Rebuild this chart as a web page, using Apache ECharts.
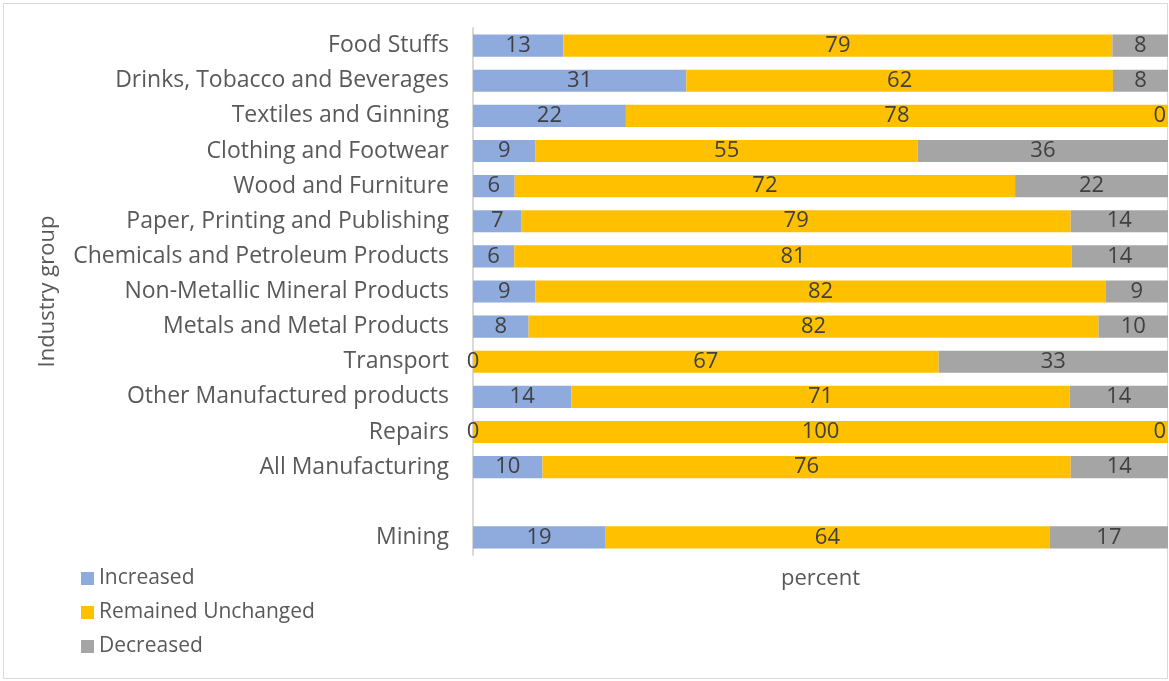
<!DOCTYPE html>
<html>
<head>
<meta charset="utf-8">
<script src="https://cdn.jsdelivr.net/npm/echarts@6/dist/echarts.min.js"></script>
<style>
  html, body { margin: 0; padding: 0; background: #ffffff; }
  #chart { width: 1169px; height: 681px; }
</style>
</head>
<body>
<div id="chart"></div>
<script>
// Industry groups, top to bottom; the empty entry leaves a gap before Mining
const categories = [
  'Food Stuffs',
  'Drinks, Tobacco and Beverages',
  'Textiles and Ginning',
  'Clothing and Footwear',
  'Wood and Furniture',
  'Paper, Printing and Publishing',
  'Chemicals and Petroleum Products',
  'Non-Metallic Mineral Products',
  'Metals and Metal Products',
  'Transport',
  'Other Manufactured products',
  'Repairs',
  'All Manufacturing',
  '',
  'Mining'
];

// Responses in percent per group
const increased = [13, 31, 22, 9, 6, 7, 6, 9, 8, 0, 14, 0, 10, null, 19];
const unchanged = [79, 62, 78, 55, 72, 79, 81, 82, 82, 67, 71, 100, 76, null, 64];
const decreased = [8, 8, 0, 36, 22, 14, 14, 9, 10, 33, 14, 0, 14, null, 17];

const seriesNames = ['Increased', 'Remained Unchanged', 'Decreased'];
const seriesColors = ['#8faadc', '#ffc000', '#a5a5a5'];

// Row totals, so each bar fills the full width (100% stacked)
const totals = categories.map((_, i) =>
  (increased[i] || 0) + (unchanged[i] || 0) + (decreased[i] || 0));

const FONT = 'Open Sans';

function buildSeries(name, values, color, idx) {
  return {
    name: name,
    type: 'bar',
    stack: 'share',
    barCategoryGap: '37%',
    itemStyle: { color: color },
    label: {
      show: true,
      position: 'inside',
      color: '#404040',
      fontFamily: FONT,
      fontSize: 22,
      formatter: p => String(values[p.dataIndex])
    },
    data: values.map((v, i) => {
      if (v === null) return null;
      const item = { value: totals[i] ? v / totals[i] * 100 : 0 };
      // a zero share at the right end keeps its label inside the plot
      if (v === 0 && idx === 2) {
        item.label = { position: 'insideRight', distance: 2 };
      }
      return item;
    })
  };
}

const chart = echarts.init(document.getElementById('chart'), null, { renderer: 'canvas' });

chart.setOption({
  backgroundColor: '#ffffff',
  animation: false,
  textStyle: { fontFamily: FONT },
  graphic: [{
    type: 'rect',
    shape: { x: 3.5, y: 3.5, width: 1164, height: 675 },
    style: { fill: 'none', stroke: '#d9d9d9', lineWidth: 1 },
    silent: true
  }],
  legend: {
    orient: 'vertical',
    left: 76,
    top: 563,
    itemWidth: 13,
    itemHeight: 13,
    itemGap: 13,
    icon: 'rect',
    textStyle: { color: '#595959', fontSize: 21, fontFamily: FONT, lineHeight: 21 },
    data: seriesNames
  },
  grid: { left: 473, right: 1, top: 28, bottom: 126, containLabel: false },
  xAxis: {
    type: 'value',
    min: 0,
    max: 100,
    name: 'percent',
    nameLocation: 'middle',
    nameGap: 13,
    nameTextStyle: { color: '#595959', fontSize: 22, fontFamily: FONT },
    axisLine: { show: false },
    axisTick: { show: false },
    axisLabel: { show: false },
    splitLine: { show: false }
  },
  yAxis: {
    type: 'category',
    inverse: true,
    data: categories,
    name: 'Industry group',
    nameLocation: 'middle',
    nameRotate: 90,
    nameGap: 414,
    nameTextStyle: { color: '#595959', fontSize: 22, fontFamily: FONT },
    axisLine: { show: true, lineStyle: { color: '#d9d9d9', width: 2 } },
    axisTick: { show: false },
    axisLabel: { color: '#595959', fontSize: 23, fontFamily: FONT, margin: 24 }
  },
  series: [
    buildSeries(seriesNames[0], increased, seriesColors[0], 0),
    buildSeries(seriesNames[1], unchanged, seriesColors[1], 1),
    buildSeries(seriesNames[2], decreased, seriesColors[2], 2)
  ]
});
</script>
</body>
</html>
